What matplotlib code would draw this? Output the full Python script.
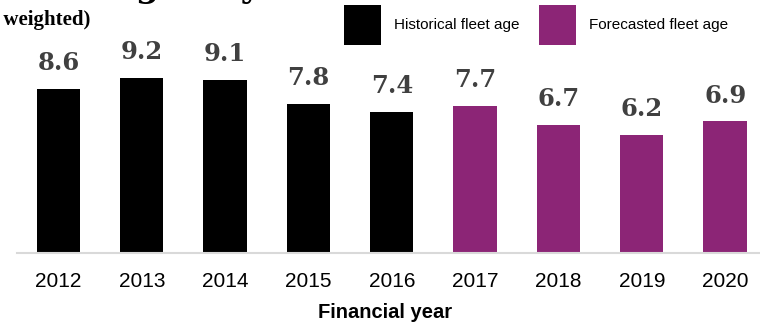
import matplotlib
matplotlib.use('Agg')
import matplotlib.pyplot as plt
from matplotlib.patches import Patch

matplotlib.rcParams.update({'font.size': 11, 'figure.dpi': 100})

years = ['2012', '2013', '2014', '2015', '2016', '2017', '2018', '2019', '2020']
fleet_age = [8.6, 9.2, 9.1, 7.8, 7.4, 7.7, 6.7, 6.2, 6.9]
is_forecast = [False, False, False, False, False, True, True, True, True]

HIST = '#000000'
FCST = '#8c2576'
SANS = ['Liberation Sans', 'DejaVu Sans']

fig = plt.figure(figsize=(7.6, 3.26), dpi=100)
# axes runs a bit past the right edge, as in the original crop
ax = fig.add_axes([16.8 / 760, 73.5 / 326, 750 / 760, 247 / 326])

colors = [FCST if f else HIST for f in is_forecast]
bars = ax.bar(range(len(years)), fleet_age, width=0.52, color=colors)
for b, v in zip(bars, fleet_age):
    ax.annotate(f'{v:.1f}', (b.get_x() + b.get_width() / 2, v),
                xytext=(0, 10), textcoords='offset points',
                ha='center', va='bottom', fontsize=17.5, fontweight='bold',
                family='DejaVu Serif', color='#404040')

ax.set_xlim(-0.5, len(years) - 0.5)
ax.set_ylim(0, 13)
ax.set_xticks(range(len(years)))
ax.set_xticklabels(years, family=SANS, fontsize=15)
ax.tick_params(axis='x', length=0, pad=14)
ax.set_yticks([])
for s in ['top', 'left', 'right']:
    ax.spines[s].set_visible(False)
ax.spines['bottom'].set_color('#d9d9d9')
ax.spines['bottom'].set_linewidth(1.5)

fig.text(385 / 760, 1 - 312 / 326, 'Financial year', ha='center', va='center',
         fontsize=14.5, fontweight='bold', family=SANS)

# title cut off by the top edge of the original image
fig.text(340 / 760, 1 + 3 / 326, 'Average fleet age in years', ha='right',
         va='baseline', fontsize=24, fontweight='bold', family='DejaVu Serif',
         color='#000000')
fig.text(90 / 760, 1 - 25 / 326, '(capacity weighted)', ha='right',
         va='baseline', fontsize=15, fontweight='bold', family='Liberation Serif',
         color='#000000')

handles = [Patch(facecolor=HIST, label='Historical fleet age'),
           Patch(facecolor=FCST, label='Forecasted fleet age')]
fig.legend(handles=handles, loc='upper left', bbox_to_anchor=(344 / 760, 1 - 5 / 326),
           ncol=2, frameon=False, borderpad=0, borderaxespad=0,
           handlelength=2.4, handleheight=3.7, handletextpad=0.85,
           columnspacing=1.3, prop={'family': SANS, 'size': 11})

fig.savefig('out.png', dpi=100)
